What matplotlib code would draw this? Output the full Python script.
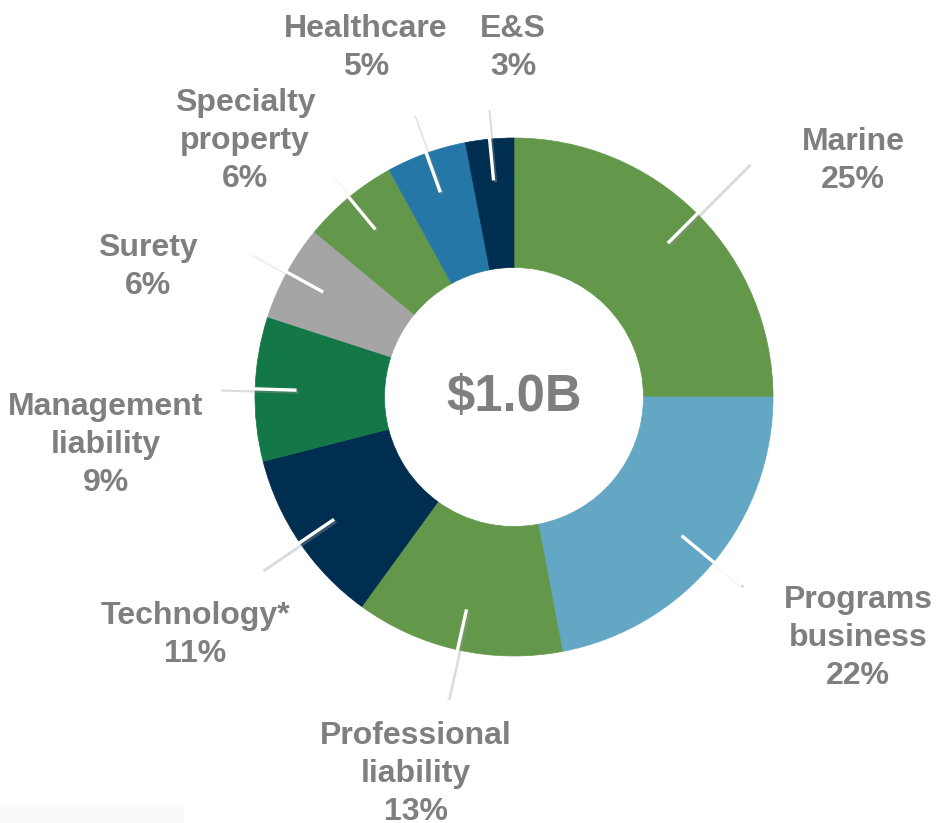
import numpy as np
import matplotlib
matplotlib.use("Agg")
import matplotlib.pyplot as plt
import matplotlib.patheffects as pe
from matplotlib.patches import Rectangle

# ---- data ----
categories = ["Marine", "Programs\nbusiness", "Professional\nliability", "Technology*",
              "Management\nliability", "Surety", "Specialty\nproperty", "Healthcare", "E&S"]
shares = [25, 22, 13, 11, 9, 6, 6, 5, 3]
colors = ["#63984b", "#63a7c5", "#63984b", "#002e50", "#137747",
          "#a5a5a5", "#63984b", "#2577a8", "#002e50"]
center_label = "$1.0B"

# label text positions (pixel layout) and leader outer radius factors
label_pos = [(853, 161), (858, 638), (416, 774), (195, 635), (106, 445),
             (148, 267), (245, 141), (366, 48), (513, 48)]
leader_out = [1.28, 1.14, 1.19, 1.18, 1.14, 1.16, 1.11, 1.16, 1.12]

W, H = 938, 823
fig = plt.figure(figsize=(W / 100, H / 100), dpi=100)
ax = fig.add_axes([0, 0, 1, 1])

cx, cy, R = 514, H - 397, 259
wedges, _ = ax.pie(shares, colors=colors, startangle=90, counterclock=False,
                   radius=R, center=(cx, cy), frame=True,
                   wedgeprops=dict(width=R * 0.5, linewidth=0.5))
for w, c in zip(wedges, colors):
    w.set_edgecolor(c)
ax.set_xlim(0, W)
ax.set_ylim(0, H)
ax.set_aspect("equal")
ax.axis("off")

gray = "#7f7f7f"
font = "Liberation Sans"

total = sum(shares)
cum = 0
for i, (cat, v) in enumerate(zip(categories, shares)):
    mid = np.deg2rad(90 - (cum + v / 2) / total * 360)
    cum += v
    r1 = 0.84 * R
    r2 = leader_out[i] * R
    ax.plot([cx + r1 * np.cos(mid), cx + r2 * np.cos(mid)],
            [cy + r1 * np.sin(mid), cy + r2 * np.sin(mid)],
            color="white", lw=2.4, solid_capstyle="butt", zorder=5,
            path_effects=[pe.SimpleLineShadow(offset=(1.5, -1.5), shadow_color="#999999", alpha=0.35),
                          pe.Normal()])
    x, y = label_pos[i]
    ax.text(x, H - y, f"{cat}\n{v}%", ha="center", va="center", fontsize=23,
            fontweight="bold", color=gray, family=font, linespacing=1.33)

ax.text(cx, cy, center_label, ha="center", va="center", fontsize=36.5,
        fontweight="bold", color=gray, family=font)

ax.add_patch(Rectangle((0, 0), 184, 18, facecolor="#fafafa", edgecolor="none", zorder=0))

fig.savefig("out.png", dpi=100, facecolor="white")
